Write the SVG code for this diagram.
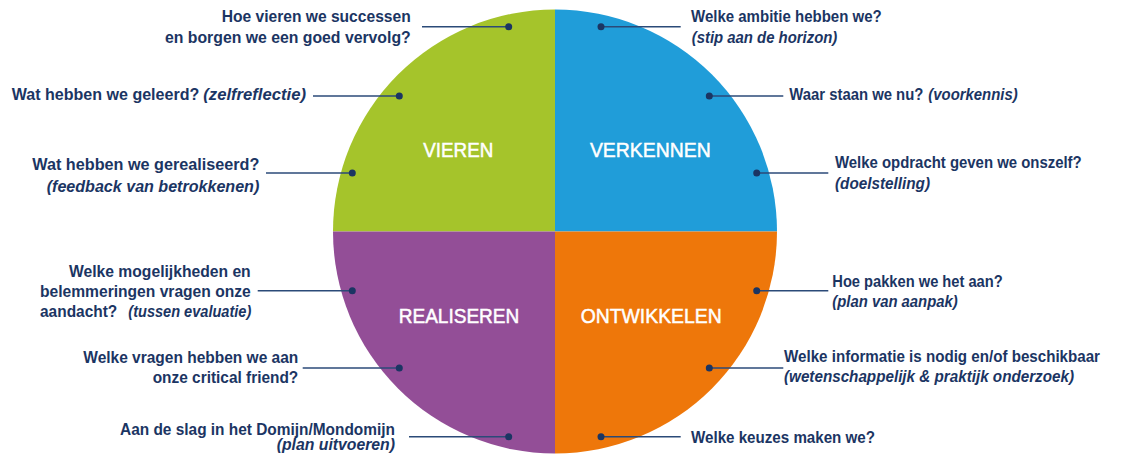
<svg xmlns="http://www.w3.org/2000/svg" width="1138" height="454" viewBox="0 0 1138 454">
<style>
.q{font-family:"Liberation Sans",Arial,sans-serif;font-size:21px;fill:#ffffff;stroke:#ffffff;stroke-width:0.5;text-anchor:middle}
.t{font-family:"Liberation Sans",Arial,sans-serif;font-size:16px;font-weight:bold;fill:#1b3563}
.e{text-anchor:end}
.i{font-style:italic}
.ln{stroke:#2b4a78;stroke-width:1.4;fill:none}
.dot{fill:#1b3563}
</style>
<rect width="1138" height="454" fill="#ffffff"/>
<g id="vieren">
<path d="M555,231.5 L333,231.5 A222,222 0 0 1 555,9.5 Z" fill="#a5c42b"/>
<text class="q" x="458.3" y="156.7" textLength="70" lengthAdjust="spacingAndGlyphs">VIEREN</text>
</g>
<g id="verkennen">
<path d="M555,231.5 L555,9.5 A222,222 0 0 1 777,231.5 Z" fill="#209dd9"/>
<text class="q" x="650.3" y="156.7" textLength="120.7" lengthAdjust="spacingAndGlyphs">VERKENNEN</text>
</g>
<g id="ontwikkelen">
<path d="M555,231.5 L777,231.5 A222,222 0 0 1 555,453.5 Z" fill="#ee770a"/>
<text class="q" x="651.2" y="322.7" textLength="141" lengthAdjust="spacingAndGlyphs">ONTWIKKELEN</text>
</g>
<g id="realiseren">
<path d="M555,231.5 L555,453.5 A222,222 0 0 1 333,231.5 Z" fill="#934e97"/>
<text class="q" x="459" y="322.7" textLength="120.6" lengthAdjust="spacingAndGlyphs">REALISEREN</text>
</g>
<g id="connectors">
<line class="ln" x1="422" y1="26.7" x2="508.7" y2="26.7"/><circle class="dot" cx="508.7" cy="26.7" r="3.5"/>
<line class="ln" x1="313" y1="96" x2="399.3" y2="96"/><circle class="dot" cx="399.3" cy="96" r="3.5"/>
<line class="ln" x1="266" y1="173" x2="352.3" y2="173"/><circle class="dot" cx="352.3" cy="173" r="3.5"/>
<line class="ln" x1="257.7" y1="290.7" x2="352.3" y2="290.7"/><circle class="dot" cx="352.3" cy="290.7" r="3.5"/>
<line class="ln" x1="302.7" y1="368" x2="399.3" y2="368"/><circle class="dot" cx="399.3" cy="368" r="3.5"/>
<line class="ln" x1="409" y1="436.7" x2="508.7" y2="436.7"/><circle class="dot" cx="508.7" cy="436.7" r="3.5"/>
<line class="ln" x1="601" y1="26.7" x2="680.7" y2="26.7"/><circle class="dot" cx="601" cy="26.7" r="3.5"/>
<line class="ln" x1="709.3" y1="96" x2="783.3" y2="96"/><circle class="dot" cx="709.3" cy="96" r="3.5"/>
<line class="ln" x1="756.7" y1="173" x2="828.3" y2="173"/><circle class="dot" cx="756.7" cy="173" r="3.5"/>
<line class="ln" x1="756.7" y1="290.7" x2="828.3" y2="290.7"/><circle class="dot" cx="756.7" cy="290.7" r="3.5"/>
<line class="ln" x1="709.3" y1="368" x2="783.3" y2="368"/><circle class="dot" cx="709.3" cy="368" r="3.5"/>
<line class="ln" x1="601" y1="436.7" x2="680.7" y2="436.7"/><circle class="dot" cx="601" cy="436.7" r="3.5"/>
</g>
<g id="q-vieren-succes">
<text class="t e" x="410.7" y="21.7" textLength="189" lengthAdjust="spacingAndGlyphs">Hoe vieren we successen</text>
<text class="t e" x="410.7" y="43" textLength="245.7" lengthAdjust="spacingAndGlyphs">en borgen we een goed vervolg?</text>
</g>
<g id="q-geleerd">
<text class="t" x="11.7" y="100" textLength="187.6" lengthAdjust="spacingAndGlyphs">Wat hebben we geleerd?</text>
<text class="t i" x="203.3" y="100" textLength="102.7" lengthAdjust="spacingAndGlyphs">(zelfreflectie)</text>
</g>
<g id="q-gerealiseerd">
<text class="t e" x="259.3" y="170" textLength="227" lengthAdjust="spacingAndGlyphs">Wat hebben we gerealiseerd?</text>
<text class="t e i" x="259.3" y="191.7" textLength="212.6" lengthAdjust="spacingAndGlyphs">(feedback van betrokkenen)</text>
</g>
<g id="q-mogelijkheden">
<text class="t e" x="250.7" y="276.7" textLength="181.7" lengthAdjust="spacingAndGlyphs">Welke mogelijkheden en</text>
<text class="t e" x="250.7" y="296.7" textLength="210.7" lengthAdjust="spacingAndGlyphs">belemmeringen vragen onze</text>
<text class="t" x="40" y="316.7" textLength="77.3" lengthAdjust="spacingAndGlyphs">aandacht?</text>
<text class="t i" x="128.3" y="316.7" textLength="123" lengthAdjust="spacingAndGlyphs">(tussen evaluatie)</text>
</g>
<g id="q-critical-friend">
<text class="t e" x="298.3" y="363.3" textLength="215" lengthAdjust="spacingAndGlyphs">Welke vragen hebben we aan</text>
<text class="t e" x="298.3" y="383.3" textLength="145.6" lengthAdjust="spacingAndGlyphs">onze critical friend?</text>
</g>
<g id="q-aan-de-slag">
<text class="t e" x="395" y="434.5" textLength="275" lengthAdjust="spacingAndGlyphs">Aan de slag in het Domijn/Mondomijn</text>
<text class="t e i" x="395" y="450" textLength="118.3" lengthAdjust="spacingAndGlyphs">(plan uitvoeren)</text>
</g>
<g id="q-ambitie">
<text class="t" x="691" y="21.7" textLength="190.7" lengthAdjust="spacingAndGlyphs">Welke ambitie hebben we?</text>
<text class="t i" x="691.7" y="43" textLength="145.6" lengthAdjust="spacingAndGlyphs">(stip aan de horizon)</text>
</g>
<g id="q-waar-staan">
<text class="t" x="789.3" y="100" textLength="134" lengthAdjust="spacingAndGlyphs">Waar staan we nu?</text>
<text class="t i" x="928.3" y="100" textLength="89.4" lengthAdjust="spacingAndGlyphs">(voorkennis)</text>
</g>
<g id="q-opdracht">
<text class="t" x="835" y="168.3" textLength="246.7" lengthAdjust="spacingAndGlyphs">Welke opdracht geven we onszelf?</text>
<text class="t i" x="835" y="189.3" textLength="95" lengthAdjust="spacingAndGlyphs">(doelstelling)</text>
</g>
<g id="q-aanpak">
<text class="t" x="832.3" y="286.7" textLength="170.4" lengthAdjust="spacingAndGlyphs">Hoe pakken we het aan?</text>
<text class="t i" x="832.3" y="307.3" textLength="125.4" lengthAdjust="spacingAndGlyphs">(plan van aanpak)</text>
</g>
<g id="q-informatie">
<text class="t" x="784" y="361.7" textLength="316" lengthAdjust="spacingAndGlyphs">Welke informatie is nodig en/of beschikbaar</text>
<text class="t i" x="784" y="381.7" textLength="290" lengthAdjust="spacingAndGlyphs">(wetenschappelijk &amp; praktijk onderzoek)</text>
</g>
<g id="q-keuzes">
<text class="t" x="691" y="443.3" textLength="184" lengthAdjust="spacingAndGlyphs">Welke keuzes maken we?</text>
</g>
</svg>
